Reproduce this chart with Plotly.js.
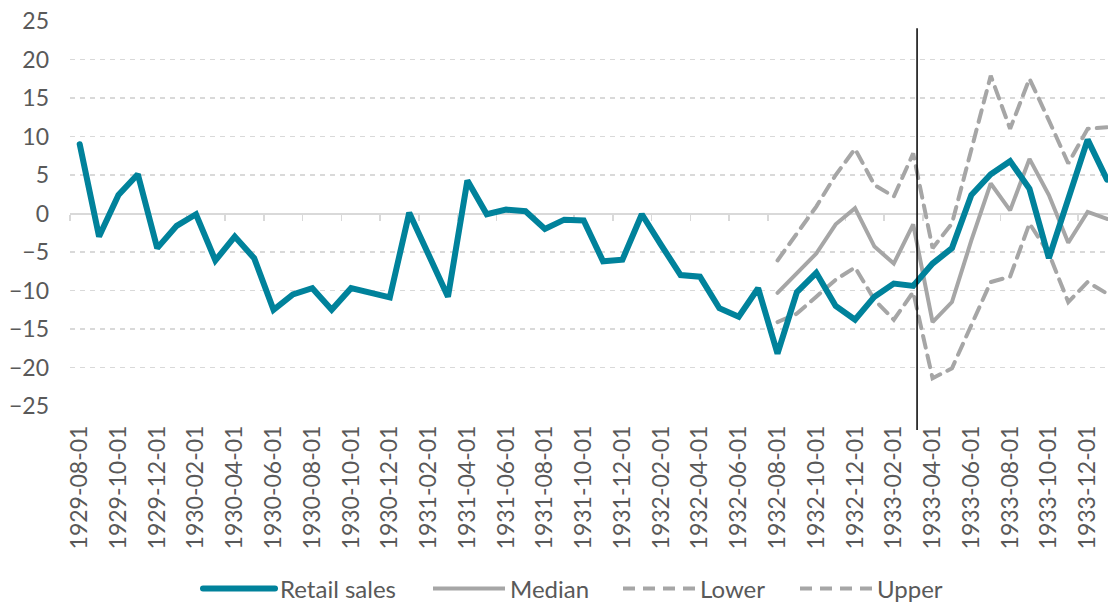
<!DOCTYPE html>
<html>
<head>
<meta charset="utf-8">
<script src="https://cdn.plot.ly/plotly-3.0.1.min.js"></script>
<style>
html,body{margin:0;padding:0;background:#fff;}
#chart{width:1108px;height:606px;}
</style>
</head>
<body>
<div id="chart"></div>
<script>
// ---- data ----
const categories = [
  "1929-08-01","1929-09-01","1929-10-01","1929-11-01","1929-12-01",
  "1930-01-01","1930-02-01","1930-03-01","1930-04-01","1930-05-01","1930-06-01","1930-07-01",
  "1930-08-01","1930-09-01","1930-10-01","1930-11-01","1930-12-01",
  "1931-01-01","1931-02-01","1931-03-01","1931-04-01","1931-05-01","1931-06-01","1931-07-01",
  "1931-08-01","1931-09-01","1931-10-01","1931-11-01","1931-12-01",
  "1932-01-01","1932-02-01","1932-03-01","1932-04-01","1932-05-01","1932-06-01","1932-07-01",
  "1932-08-01","1932-09-01","1932-10-01","1932-11-01","1932-12-01",
  "1933-01-01","1933-02-01","1933-03-01","1933-04-01","1933-05-01","1933-06-01","1933-07-01",
  "1933-08-01","1933-09-01","1933-10-01","1933-11-01","1933-12-01","1934-01-01"
];
const tickLabels = [
  "1929-08-01","1929-10-01","1929-12-01","1930-02-01","1930-04-01","1930-06-01","1930-08-01",
  "1930-10-01","1930-12-01","1931-02-01","1931-04-01","1931-06-01","1931-08-01","1931-10-01",
  "1931-12-01","1932-02-01","1932-04-01","1932-06-01","1932-08-01","1932-10-01","1932-12-01",
  "1933-02-01","1933-04-01","1933-06-01","1933-08-01","1933-10-01","1933-12-01"
];
const retailSales = [
  9.0, -3.0, 2.4, 5.1, -4.5, -1.6, -0.1, -6.1, -3.0, -5.8, -12.5, -10.5,
  -9.7, -12.5, -9.7, -10.4, -10.9, 0.1, -5.3, -10.8, 4.3, -0.1, 0.5, 0.3,
  -2.0, -0.8, -0.9, -6.2, -6.0, -0.1, -4.1, -8.0, -8.2, -12.3, -13.4, -9.7,
  -18.2, -10.2, -7.7, -12.0, -13.8, -10.8, -9.1, -9.4, -6.5, -4.5, 2.4, 5.1,
  6.8, 3.2, -5.8, 2.0, 9.6, 4.4
];
// forecast band series start at 1932-08-01
const forecastStart = "1932-08-01";
const median = [-10.3, -7.8, -5.2, -1.4, 0.7, -4.3, -6.5, -1.4, -14.1, -11.5, -3.5, 3.9, 0.4, 7.1, 2.4, -3.8, 0.2, -0.7];
const lower  = [-14.1, -13.0, -10.8, -8.6, -7.0, -11.2, -13.8, -10.2, -21.4, -20.1, -14.5, -8.9, -8.2, -1.3, -5.2, -11.5, -8.9, -10.4];
const upper  = [-6.1, -2.6, 0.9, 5.0, 8.4, 3.7, 2.2, 7.8, -4.5, -1.3, 8.2, 17.9, 11.0, 17.5, 12.1, 6.5, 11.0, 11.2];
const cutoffIndex = 43.2; // vertical marker, in category units
const yTicks = [25, 20, 15, 10, 5, 0, -5, -10, -15, -20, -25];

// ---- styles ----
const TEAL = "#00829B";
const GRAY = "#A6A6A6";
const TXT = "#595959";
const GRID = "#D9D9D9";
const FONT = "Lato, 'Open Sans', sans-serif";

const fx = categories.slice(categories.indexOf(forecastStart));

const retailTrace = {x: categories, y: retailSales, name: "Retail sales", type: "scatter", mode: "lines",
   line: {color: TEAL, width: 6}, legend: "legend"};
const medianTrace = {x: fx, y: median, name: "Median", type: "scatter", mode: "lines",
   line: {color: GRAY, width: 4}, legend: "legend2"};
const lowerTrace = {x: fx, y: lower, name: "Lower", type: "scatter", mode: "lines",
   line: {color: GRAY, width: 4, dash: "12px,8px"}, legend: "legend3"};
const upperTrace = {x: fx, y: upper, name: "Upper", type: "scatter", mode: "lines",
   line: {color: GRAY, width: 4, dash: "12px,8px"}, legend: "legend4"};
const traces = [medianTrace, lowerTrace, upperTrace, retailTrace];

const xRange = [-0.5, 53.05];
const boundaryTicks = [];
for (let i = 0; i < categories.length; i += 2) boundaryTicks.push(i - 0.5);

// legend item symbol left edges (px) in the reference layout
const legendStarts = [203, 433, 623, 800];
const LEG_OFF = 5;
function legendAt(px) {
  return {
    orientation: "h",
    x: (px - LEG_OFF) / 1108, xref: "container", xanchor: "left",
    y: 1 - 589 / 606, yref: "container", yanchor: "middle",
    font: {family: FONT, color: TXT, size: 24},
    itemwidth: 72, bgcolor: "rgba(0,0,0,0)", borderwidth: 0
  };
}

const layout = {
  width: 1108, height: 606,
  margin: {l: 70, r: 0, t: 21, b: 200},
  paper_bgcolor: "#fff", plot_bgcolor: "#fff",
  font: {family: FONT, color: TXT, size: 23},
  showlegend: true,
  legend: legendAt(legendStarts[0]),
  legend2: legendAt(legendStarts[1]),
  legend3: legendAt(legendStarts[2]),
  legend4: legendAt(legendStarts[3]),
  xaxis: {
    type: "category", categoryorder: "array", categoryarray: categories,
    range: xRange, tickmode: "array", tickvals: tickLabels, ticktext: tickLabels,
    tickangle: -90, showgrid: false, showline: false, zeroline: false,
    ticks: "", ticklabelstandoff: 14,
    tickfont: {family: FONT, color: TXT, size: 23}, fixedrange: true
  },
  xaxis2: {
    overlaying: "x", anchor: "free", position: 0.5, type: "linear",
    range: xRange, tickmode: "array", tickvals: boundaryTicks,
    showticklabels: false, ticks: "outside", ticklen: 6, tickwidth: 1.5, tickcolor: GRID,
    showgrid: false, showline: false, zeroline: false, layer: "below traces"
  },
  yaxis: {
    range: [-25, 25], tickmode: "array", tickvals: yTicks,
    showgrid: true, gridcolor: GRID, gridwidth: 1.3, griddash: "5px,5px",
    zeroline: true, zerolinecolor: GRID, zerolinewidth: 2,
    showline: false, ticks: "", ticklabelstandoff: 20,
    tickfont: {family: FONT, color: TXT, size: 23}, fixedrange: true
  },
  shapes: [{
    type: "line", xref: "x2", yref: "paper",
    x0: cutoffIndex, x1: cutoffIndex, y0: (406 - 430) / 385, y1: (406 - 28.3) / 385,
    line: {color: "#000000", width: 1.5}
  }]
};

// empty helper trace so that xaxis2 (boundary tick marks on the zero line) is drawn
traces.push({x: [0], y: [null], xaxis: "x2", showlegend: false, hoverinfo: "skip", type: "scatter", mode: "lines"});

Plotly.newPlot("chart", traces, layout, {displayModeBar: false, staticPlot: true}).then(() => {
  document.querySelectorAll(".scatterlayer path.js-line, .legend path.js-line").forEach(p => {
    p.style.strokeLinecap = "round";
  });
});
</script>
</body>
</html>
